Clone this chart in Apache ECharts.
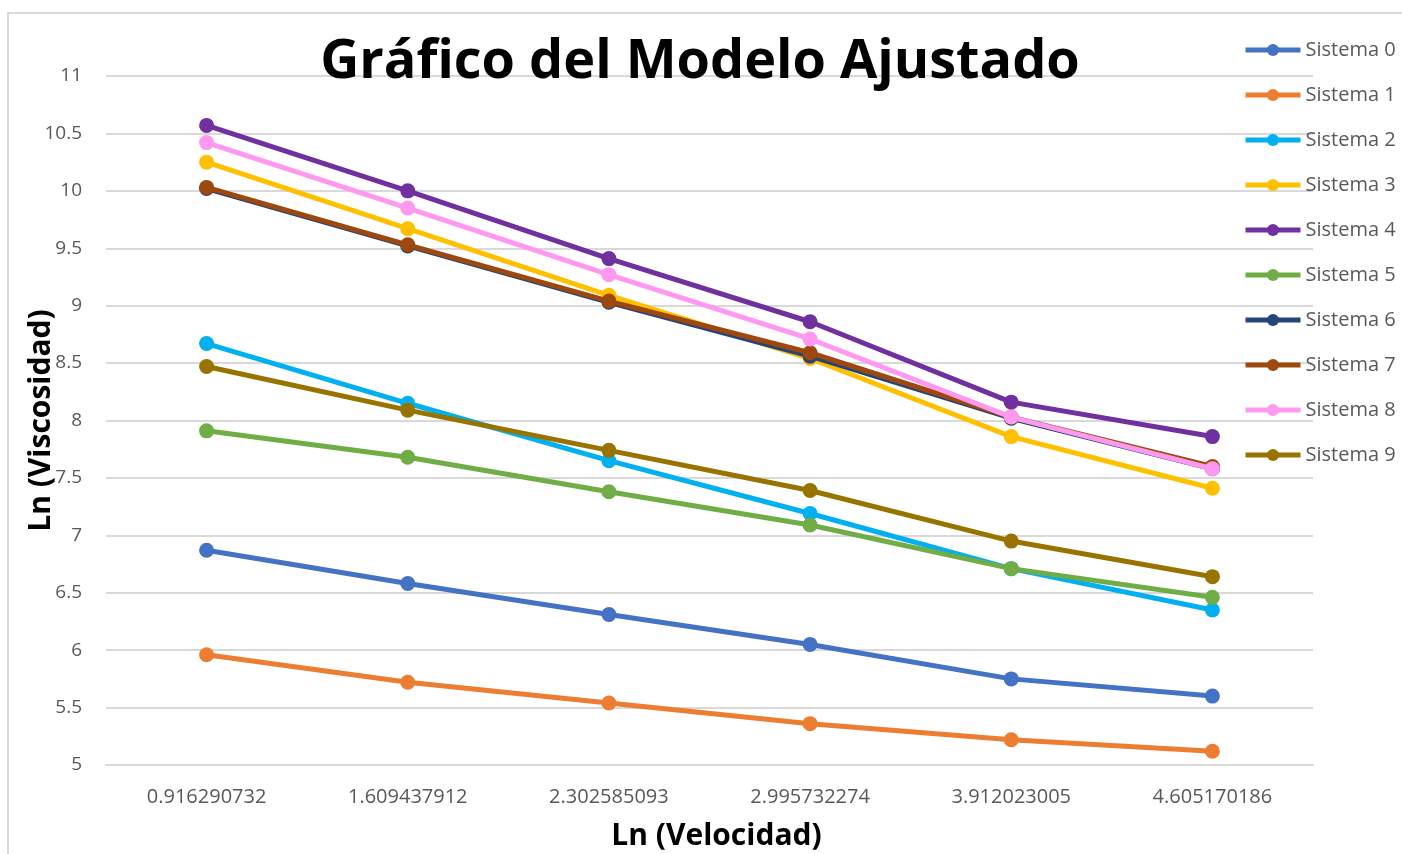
<!DOCTYPE html>
<html>
<head>
<meta charset="utf-8">
<script src="https://cdn.jsdelivr.net/npm/echarts@6/dist/echarts.min.js"></script>
<style>
  html, body { margin: 0; padding: 0; background: #fff; }
  #main { width: 1402px; height: 854px; }
</style>
</head>
<body>
<div id="main"></div>
<script>
// categorias del eje X (Ln de la velocidad)
var categorias = ['0.916290732', '1.609437912', '2.302585093', '2.995732274', '3.912023005', '4.605170186'];

// valores
var sistema0 = [6.87, 6.58, 6.31, 6.05, 5.75, 5.60];
var sistema1 = [5.96, 5.72, 5.54, 5.36, 5.22, 5.12];
var sistema2 = [8.67, 8.15, 7.65, 7.19, 6.71, 6.35];
var sistema3 = [10.25, 9.67, 9.09, 8.54, 7.86, 7.41];
var sistema4 = [10.57, 10.00, 9.41, 8.86, 8.16, 7.86];
var sistema5 = [7.91, 7.68, 7.38, 7.09, 6.71, 6.46];
var sistema6 = [10.02, 9.52, 9.03, 8.56, 8.02, 7.58];
var sistema7 = [10.03, 9.53, 9.04, 8.59, 8.03, 7.60];
var sistema8 = [10.42, 9.85, 9.27, 8.71, 8.03, 7.58];
var sistema9 = [8.47, 8.09, 7.74, 7.39, 6.95, 6.64];

var nombres = ['Sistema 0', 'Sistema 1', 'Sistema 2', 'Sistema 3', 'Sistema 4',
               'Sistema 5', 'Sistema 6', 'Sistema 7', 'Sistema 8', 'Sistema 9'];
var colores = ['#4472C4', '#ED7D31', '#00B0F0', '#FFC000', '#7030A0',
               '#70AD47', '#264478', '#9E480E', '#FF99F0', '#997300'];
var datos = [sistema0, sistema1, sistema2, sistema3, sistema4,
             sistema5, sistema6, sistema7, sistema8, sistema9];

var chart = echarts.init(document.getElementById('main'));

var series = nombres.map(function (n, i) {
  return {
    name: n,
    type: 'line',
    data: datos[i],
    symbol: 'circle',
    symbolSize: 15,
    showSymbol: true,
    lineStyle: { width: 5, color: colores[i] },
    itemStyle: { color: colores[i] },
    emphasis: { disabled: true },
    z: 2 + i
  };
});

chart.setOption({
  animation: false,
  // borde del area del grafico (como en Excel)
  graphic: [{
    type: 'rect',
    silent: true,
    shape: { x: 8, y: 13, width: 1500, height: 900 },
    style: { fill: 'none', stroke: '#d9d9d9', lineWidth: 2 }
  }],
  title: {
    text: 'Gráfico del Modelo Ajustado',
    left: 695,
    textAlign: 'center',
    top: 31,
    textStyle: {
      fontFamily: 'Open Sans',
      fontWeight: 'bold',
      fontSize: 54,
      color: '#000'
    }
  },
  legend: {
    orient: 'vertical',
    left: 1238,
    top: 35,
    itemWidth: 55,
    itemHeight: 15,
    itemGap: 25,
    data: nombres,
    lineStyle: { width: 5 },
    textStyle: { fontFamily: 'Open Sans', fontSize: 20, color: '#595959' }
  },
  grid: {
    left: 106,
    right: 89,
    top: 76,
    bottom: 89,
    outerBoundsMode: 'none'
  },
  xAxis: {
    type: 'category',
    data: categorias,
    boundaryGap: true,
    name: 'Ln (Velocidad)',
    nameLocation: 'middle',
    nameGap: 56,
    nameTextStyle: { fontFamily: 'Open Sans', fontWeight: 'bold', fontSize: 30, color: '#000', padding: [0, 0, 0, 14] },
    axisLine: { lineStyle: { color: '#d9d9d9', width: 2 } },
    axisTick: { show: false },
    axisLabel: { fontFamily: 'Open Sans', fontSize: 20, color: '#595959', margin: 22 }
  },
  yAxis: {
    type: 'value',
    min: 5,
    max: 11,
    interval: 0.5,
    name: 'Ln (Viscosidad)',
    nameLocation: 'middle',
    nameGap: 50,
    nameRotate: 90,
    nameMoveOverlap: false,
    nameTextStyle: { fontFamily: 'Open Sans', fontWeight: 'bold', fontSize: 30, color: '#000' },
    axisLine: { show: false },
    axisTick: { show: false },
    splitLine: { lineStyle: { color: '#d9d9d9', width: 2 } },
    axisLabel: { fontFamily: 'Open Sans', fontSize: 19, color: '#595959', margin: 24 }
  },
  series: series
});
</script>
</body>
</html>
